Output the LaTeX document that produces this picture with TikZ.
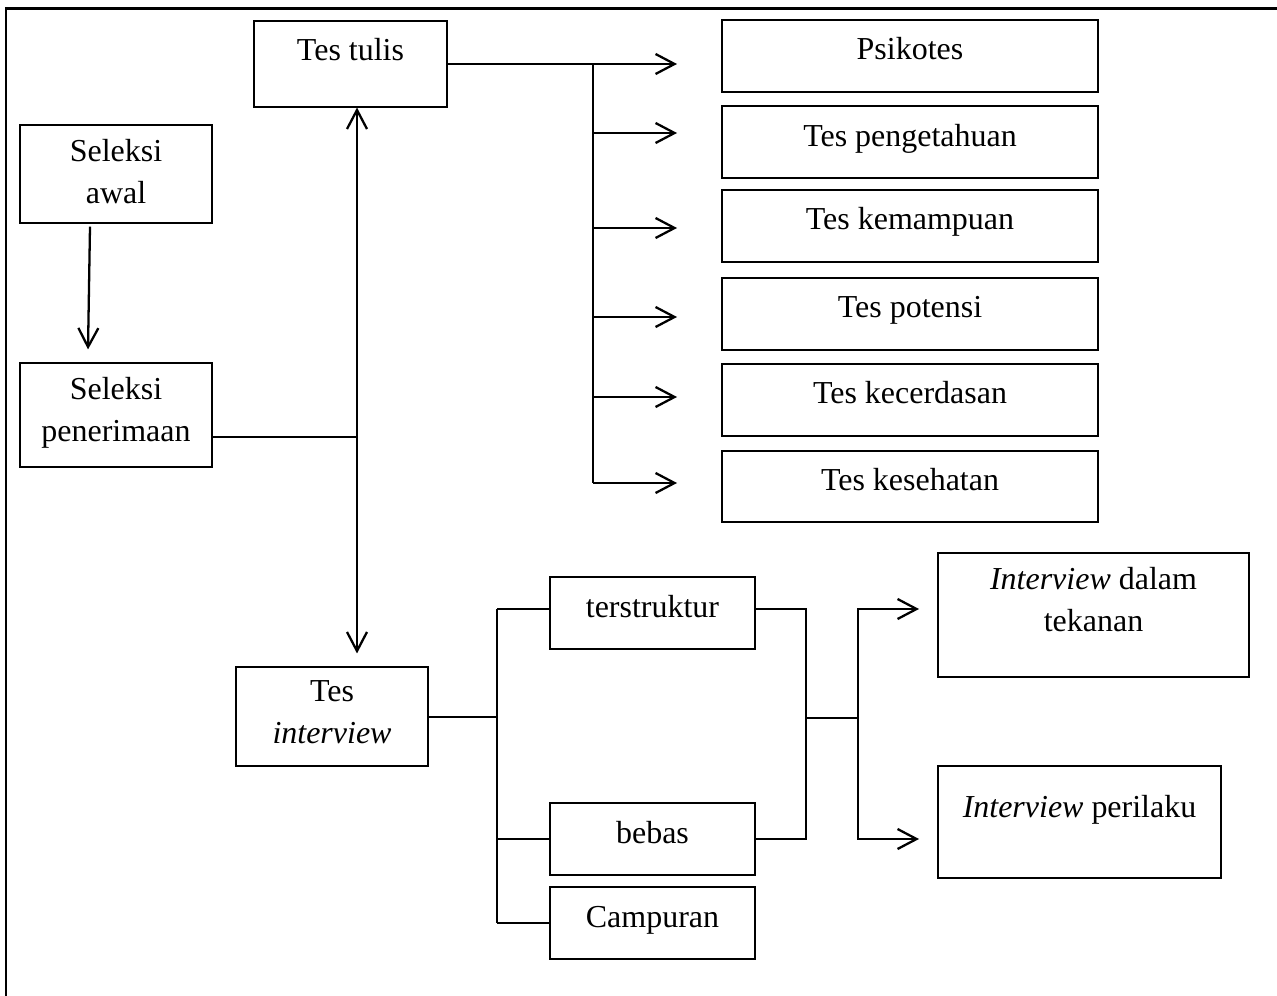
\documentclass[tikz,border=0pt]{standalone}
\usepackage{fontspec}
\setmainfont{Liberation Serif}
\usetikzlibrary{arrows.meta,calc}
\begin{document}
\begin{tikzpicture}[x=0.02cm,y=-0.02cm,
  box/.style={draw, line width=0.65pt, inner sep=0},
  lbl/.style={anchor=north, inner sep=0, align=center,
    font=\fontsize{18.2}{23.9}\selectfont,
    execute at begin node={\rule{0pt}{15pt}}},
  conn/.style={line width=1.3pt},
  arr/.style={-{Straight Barb[length=0.38cm,width=0.4cm]}},
  arrboth/.style={{Straight Barb[length=0.38cm,width=0.4cm]}-{Straight Barb[length=0.38cm,width=0.4cm]}}
]
\useasboundingbox (0,0) rectangle (1277,996);
% outer frame (top and left only)
\coordinate (fa) at (6,996);
\coordinate (fb) at (6,8.5);
\coordinate (fc) at (1277,8.5);
\draw[line width=1.3pt] (fa) -- (fb) -- (fc);

% boxes
\node[box, minimum width=3.86cm, minimum height=1.72cm] (tt) at (350.5,64) {};
\node[box, minimum width=3.84cm, minimum height=1.96cm] (sa) at (116,174) {};
\node[box, minimum width=3.84cm, minimum height=2.08cm] (sp) at (116,415) {};
\node[box, minimum width=3.84cm, minimum height=1.98cm] (ti) at (332,716.5) {};
\node[box, minimum width=7.52cm, minimum height=1.44cm] (p1) at (910,56) {};
\node[box, minimum width=7.52cm, minimum height=1.44cm] (p2) at (910,142) {};
\node[box, minimum width=7.52cm, minimum height=1.44cm] (p3) at (910,226) {};
\node[box, minimum width=7.52cm, minimum height=1.44cm] (p4) at (910,314) {};
\node[box, minimum width=7.52cm, minimum height=1.44cm] (p5) at (910,400) {};
\node[box, minimum width=7.52cm, minimum height=1.42cm] (p6) at (910,486.5) {};
\node[box, minimum width=4.10cm, minimum height=1.44cm] (ts) at (652.5,613) {};
\node[box, minimum width=4.10cm, minimum height=1.44cm] (bb) at (652.5,839) {};
\node[box, minimum width=4.10cm, minimum height=1.44cm] (cp) at (652.5,923) {};
\node[box, minimum width=6.22cm, minimum height=2.48cm] (idt) at (1093.5,615) {};
\node[box, minimum width=5.66cm, minimum height=2.24cm] (ip) at (1079.5,822) {};

% texts
\node[lbl] (ttx) at (350.5,33.5) {Tes tulis};
\node[lbl] (sax) at (116,138.5) {Seleksi\\awal};
\node[lbl] (spx) at (116,376.5) {Seleksi\\penerimaan};
\node[lbl] (tix) at (332,680.5) {Tes\\\textit{interview}};
\node[lbl] (p1x) at (910,32.5) {Psikotes};
\node[lbl] (p2x) at (910,119.5) {Tes pengetahuan};
\node[lbl] (p3x) at (910,202.5) {Tes kemampuan};
\node[lbl] (p4x) at (910,290.5) {Tes potensi};
\node[lbl] (p5x) at (910,376.5) {Tes kecerdasan};
\node[lbl] (p6x) at (910,463.5) {Tes kesehatan};
\node[lbl] (tsx) at (652.5,590.5) {terstruktur};
\node[lbl] (bbx) at (652.5,816.5) {bebas};
\node[lbl] (cpx) at (652.5,900.5) {Campuran};
\node[lbl] (idtx) at (1093.5,566.5) {\textit{Interview} dalam\\tekanan};
\node[lbl] (ipx) at (1079.5,790.5) {\textit{Interview} perilaku};

% Seleksi awal -> Seleksi penerimaan
\draw[conn,arr] ($(sa.south)+(-26,3)$) -- ($(sp.north)+(-28,-13)$);

% Seleksi penerimaan -> main vertical
\coordinate (j1) at (357,437);
\draw[conn] (j1 -| sp.east) -- (j1);
\draw[conn,arrboth] (tt.south -| j1) -- ($(ti.north -| j1)+(0,-13)$);

% Tes tulis -> tests
\coordinate (s1) at (593,64);
\coordinate (s6) at (593,483);
\draw[conn] (s1) -- (s6);
\foreach \y/\n in {64/1,133/2,228/3,317/4,397/5,483/6}{
  \coordinate (e\n) at (677,\y);
}
\draw[conn,arr] (tt.east) -- (e1);
\foreach \y/\n in {133/2,228/3,317/4,397/5,483/6}{
  \coordinate (s\n) at (593,\y);
  \draw[conn,arr] (s\n) -- (e\n);
}

% Tes interview -> types
\coordinate (c1) at (497,609);
\coordinate (c2) at (497,839);
\coordinate (c3) at (497,923);
\coordinate (cm) at (497,717);
\draw[conn] (cm -| ti.east) -- (cm);
\draw[conn] (c1) -- (c3);
\draw[conn] (c1) -- (c1 -| ts.west);
\draw[conn] (c2) -- (c2 -| bb.west);
\draw[conn] (c3) -- (c3 -| cp.west);

% terstruktur / bebas -> interview kinds
\coordinate (d1) at (806,609);
\coordinate (d2) at (806,839);
\coordinate (dm) at (806,718);
\coordinate (f) at (858,718);
\coordinate (f1) at (858,609);
\coordinate (f2) at (858,839);
\coordinate (g1) at (919,609);
\coordinate (g2) at (919,839);
\draw[conn] (d1 -| ts.east) -- (d1) -- (d2) -- (d2 -| bb.east);
\draw[conn] (dm) -- (f);
\draw[conn,arr] (f) -- (f1) -- (g1);
\draw[conn,arr] (f) -- (f2) -- (g2);
\end{tikzpicture}
\end{document}
